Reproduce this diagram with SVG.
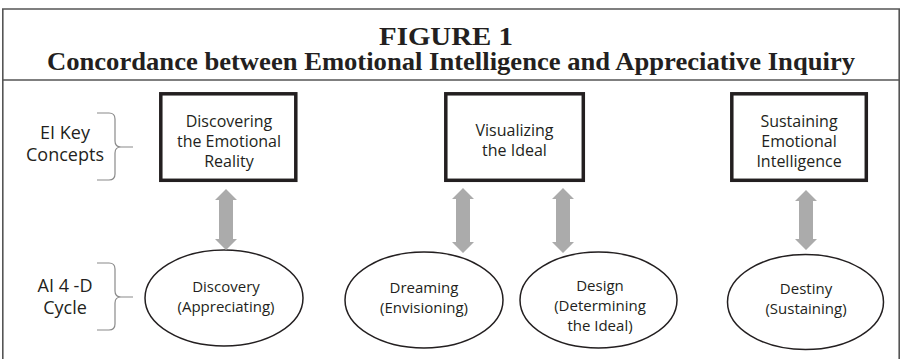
<svg xmlns="http://www.w3.org/2000/svg" width="902" height="359" viewBox="0 0 902 359">
  <style>
    .frame { fill: none; stroke: #555; stroke-width: 1.6; }
    .title { font-family: "Liberation Serif", "Times New Roman", serif; font-weight: bold; font-size: 26px; fill: #231f20; text-anchor: middle; }
    .concept rect { fill: #fff; stroke: #231f20; stroke-width: 3.5; }
    .stage ellipse { fill: #fff; stroke: #231f20; stroke-width: 1.5; }
    .lbl { font-family: "Open Sans", "Liberation Sans", sans-serif; font-size: 16px; fill: #231f20; text-anchor: middle; }
    .stage .lbl { font-size: 15px; }
    .side { font-family: "Open Sans", "Liberation Sans", sans-serif; font-size: 18px; fill: #231f20; text-anchor: middle; }
    .brace { fill: none; stroke: #8a8a8a; stroke-width: 1.2; }
    .arrow { fill: #ababab; }
  </style>

  <rect width="902" height="359" fill="#fff"/>

  <!-- outer frame, open at the bottom edge -->
  <path class="frame" d="M2.8,359 V9 H899.2 V359"/>
  <line class="frame" x1="2.8" y1="80" x2="899.2" y2="80"/>

  <g id="heading">
    <text class="title" x="446" y="45" textLength="134" lengthAdjust="spacingAndGlyphs">FIGURE 1</text>
    <text class="title" x="451" y="70" textLength="808" lengthAdjust="spacingAndGlyphs">Concordance between Emotional Intelligence and Appreciative Inquiry</text>
  </g>

  <!-- row labels with braces -->
  <g id="label-ei">
    <text class="side" x="65" y="139">EI Key</text>
    <text class="side" x="65" y="161">Concepts</text>
    <path class="brace" d="M97,113 H109 Q115,113 115,119 V141 Q115,147 121,147 H133 M121,147 Q115,147 115,153 V174 Q115,180 109,180 H97"/>
  </g>
  <g id="label-ai">
    <text class="side" x="65" y="292">AI 4 -D</text>
    <text class="side" x="65" y="314">Cycle</text>
    <path class="brace" d="M97,263 H109 Q115,263 115,269 V291 Q115,297 121,297 H133 M121,297 Q115,297 115,303 V324 Q115,330 109,330 H97"/>
  </g>

  <!-- EI key concepts -->
  <g id="concept-discovering" class="concept">
    <rect x="160.8" y="93.8" width="135" height="86.5"/>
    <text class="lbl" x="229" y="127">Discovering</text>
    <text class="lbl" x="229" y="147">the Emotional</text>
    <text class="lbl" x="229" y="167">Reality</text>
  </g>
  <g id="concept-visualizing" class="concept">
    <rect x="445.8" y="93.8" width="137.5" height="86.5"/>
    <text class="lbl" x="514.5" y="136">Visualizing</text>
    <text class="lbl" x="514.5" y="156">the Ideal</text>
  </g>
  <g id="concept-sustaining" class="concept">
    <rect x="731.8" y="93.8" width="134.5" height="86.5"/>
    <text class="lbl" x="799" y="127">Sustaining</text>
    <text class="lbl" x="799" y="147">Emotional</text>
    <text class="lbl" x="799" y="167">Intelligence</text>
  </g>

  <!-- AI 4-D cycle stages -->
  <g id="stage-discovery" class="stage">
    <ellipse cx="224" cy="298" rx="79" ry="48"/>
    <text class="lbl" x="226" y="292">Discovery</text>
    <text class="lbl" x="226" y="312">(Appreciating)</text>
  </g>
  <g id="stage-dreaming" class="stage">
    <ellipse cx="424" cy="300" rx="79" ry="48"/>
    <text class="lbl" x="424" y="293">Dreaming</text>
    <text class="lbl" x="424" y="313">(Envisioning)</text>
  </g>
  <g id="stage-design" class="stage">
    <ellipse cx="598.5" cy="300" rx="78.5" ry="48"/>
    <text class="lbl" x="600" y="291">Design</text>
    <text class="lbl" x="600" y="311">(Determining</text>
    <text class="lbl" x="600" y="331">the Ideal)</text>
  </g>
  <g id="stage-destiny" class="stage">
    <ellipse cx="805.5" cy="302" rx="78" ry="47.5"/>
    <text class="lbl" x="806" y="294">Destiny</text>
    <text class="lbl" x="806" y="314">(Sustaining)</text>
  </g>

  <!-- two-way correspondence arrows -->
  <g id="connectors" class="arrow">
    <path d="M226,189 L237,200 H233 V239 H237 L226,250 L215,239 H219 V200 H215 Z"/>
    <path d="M463,188 L474,199 H470 V242 H474 L463,253 L452,242 H456 V199 H452 Z"/>
    <path d="M563,188 L574,199 H570 V242 H574 L563,253 L552,242 H556 V199 H552 Z"/>
    <path d="M806,190 L817,201 H813 V239 H817 L806,250 L795,239 H799 V201 H795 Z"/>
  </g>
</svg>
